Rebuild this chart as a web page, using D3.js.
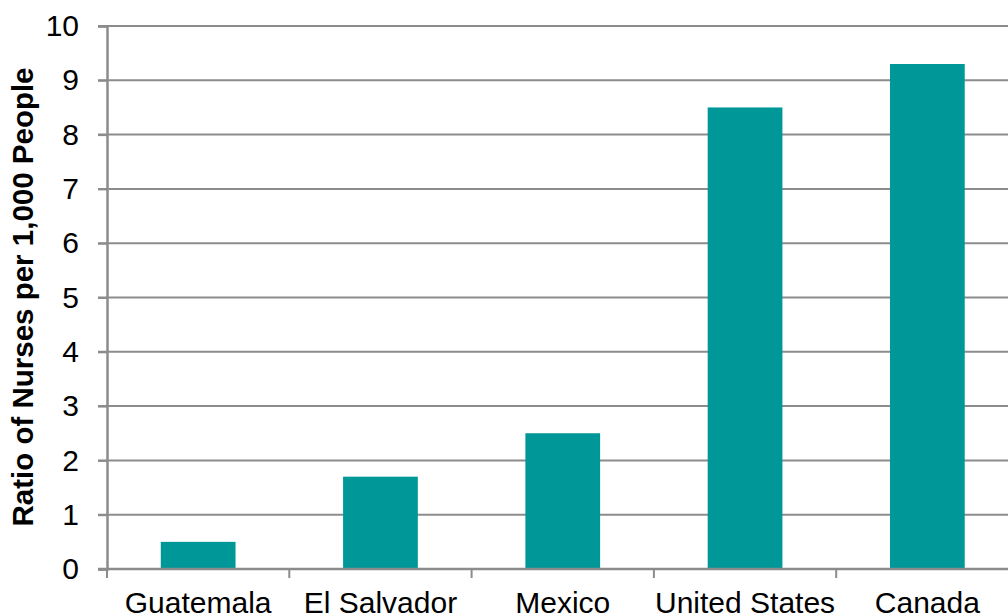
<!DOCTYPE html>
<html><head><meta charset="utf-8">
<script src="https://cdn.jsdelivr.net/npm/d3@7"></script>
<style>body{margin:0;background:#fff}svg{display:block;font-family:"Liberation Sans",Arial,sans-serif}</style>
</head><body><svg id="c" width="1008" height="616"></svg>
<script>
const categories = ["Guatemala","El Salvador","Mexico","United States","Canada"];
const values = [0.5, 1.7, 2.5, 8.5, 9.3];
const yTicks = [0,1,2,3,4,5,6,7,8,9,10];
const yTitle = "Ratio of Nurses per 1,000 People";

const svg = d3.select("#c");
const x0 = 107, step = 182.3;
const x = d3.scaleBand().domain(categories).range([x0, x0 + step*categories.length]).paddingInner(0.59).paddingOuter(0.295);
const y = d3.scaleLinear().domain([0,10]).range([569, 26]);

// gridlines
svg.append("g").selectAll("line").data(yTicks.filter(d=>d>0)).join("line")
  .attr("x1", 98).attr("x2", 1008).attr("y1", d=>y(d)).attr("y2", d=>y(d))
  .attr("stroke", "#8c8c8c").attr("stroke-width", 2);

// bars
svg.append("g").selectAll("rect").data(values).join("rect")
  .attr("x", (d,i)=>x(categories[i])).attr("width", x.bandwidth())
  .attr("y", d=>y(d)).attr("height", d=>y(0)-y(d))
  .attr("fill", "#009799");

// y axis
const yAxis = d3.axisLeft(y).tickValues(yTicks).tickSize(9).tickPadding(19).tickFormat(d3.format("d"));
const gy = svg.append("g").attr("transform", `translate(${x0},0)`).call(yAxis);
gy.select(".domain").attr("stroke", "#8c8c8c").attr("stroke-width", 2.5);
gy.selectAll(".tick line").attr("stroke", "#8c8c8c").attr("stroke-width", 2);
gy.selectAll(".tick text").attr("font-size", 30).attr("fill", "#000").attr("font-family", "Liberation Sans, Arial, sans-serif");

// x axis
const xb = d3.scaleLinear().domain([0, categories.length]).range([x0, x0 + step*categories.length]);
const gx = svg.append("g").attr("transform", `translate(0,${y(0)})`);
gx.append("line").attr("x1", 98).attr("x2", 1008).attr("stroke", "#8c8c8c").attr("stroke-width", 2.5);
gx.selectAll("line.tk").data(d3.range(0, categories.length+1)).join("line").attr("class","tk")
  .attr("x1", d=>xb(d)).attr("x2", d=>xb(d)).attr("y1", 0).attr("y2", 9)
  .attr("stroke", "#8c8c8c").attr("stroke-width", 2);
gx.selectAll("text").data(categories).join("text")
  .attr("x", d=>x(d)+x.bandwidth()/2).attr("y", 44)
  .attr("text-anchor","middle").attr("font-size", 30).attr("fill","#000").text(d=>d);

// y title
svg.append("text").attr("transform", "translate(33,297) rotate(-90)")
  .attr("text-anchor","middle").attr("font-size", 29.5).attr("font-weight","bold").attr("fill","#000").text(yTitle);
</script></body></html>
